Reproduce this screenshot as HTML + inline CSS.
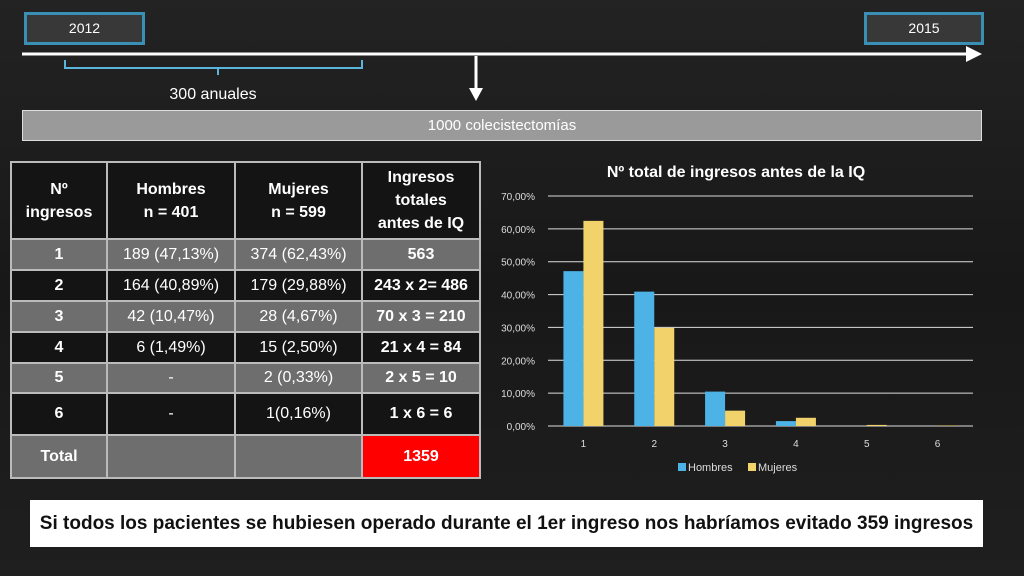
<!DOCTYPE html>
<html><head><meta charset="utf-8"><style>
body{margin:0;width:1024px;height:576px;overflow:hidden;background:#1e1e1e;font-family:"Liberation Sans",sans-serif;position:relative}
.abs{position:absolute}
.yr{position:absolute;background:#383838;border:3px solid #3a8fb5;color:#fff;font-size:14px;text-align:center;box-sizing:border-box;line-height:27px}
table{position:absolute;left:10px;top:161px;border-collapse:collapse;color:#fff;font-size:16px}
td{border:2px solid #bbb;text-align:center;padding:0}
tr.g td{background:#6e6e6e}
tr.d td{background:#141414}
.b{font-weight:bold}
.h td{line-height:23px}
</style></head><body>
<div class="abs" style="left:0;top:0;width:1024px;height:576px;background:linear-gradient(180deg,#232323,#181818 50%,#1f1f1f)"></div>
<div class="yr" style="left:24px;top:12px;width:121px;height:33px">2012</div>
<div class="yr" style="left:864px;top:12px;width:120px;height:33px">2015</div>
<svg class="abs" style="left:0;top:0" width="1024" height="110">
<line x1="22" y1="54" x2="970" y2="54" stroke="#fff" stroke-width="3"/>
<polygon points="966,46 982,54 966,62" fill="#fff"/>
<path d="M65,60 V68 H362 V60 M218,68 V75" fill="none" stroke="#5ab4dc" stroke-width="2"/>
<line x1="476" y1="56" x2="476" y2="90" stroke="#fff" stroke-width="3"/>
<polygon points="469,88 483,88 476,101" fill="#fff"/>
</svg>
<div class="abs" style="left:150px;top:86px;width:126px;text-align:center;color:#fff;font-size:16px">300 anuales</div>
<div class="abs" style="left:22px;top:110px;width:960px;height:31px;background:#9a9a9a;border:1px solid #ddd;box-sizing:border-box;color:#fff;text-align:center;line-height:29px;font-size:15px">1000 colecistectomías</div>
<table>
<tr class="d h" style="height:77px"><td class="b" style="width:94px">Nº<br>ingresos</td><td class="b" style="width:126px">Hombres<br>n = 401</td><td class="b" style="width:125px">Mujeres<br>n = 599</td><td class="b" style="width:116px">Ingresos<br>totales<br>antes de IQ</td></tr>
<tr class="g" style="height:31px"><td class="b">1</td><td>189 (47,13%)</td><td>374 (62,43%)</td><td class="b">563</td></tr>
<tr class="d" style="height:31px"><td class="b">2</td><td>164 (40,89%)</td><td>179 (29,88%)</td><td class="b">243 x 2= 486</td></tr>
<tr class="g" style="height:31px"><td class="b">3</td><td>42 (10,47%)</td><td>28 (4,67%)</td><td class="b">70 x 3 = 210</td></tr>
<tr class="d" style="height:31px"><td class="b">4</td><td>6 (1,49%)</td><td>15 (2,50%)</td><td class="b">21 x 4 = 84</td></tr>
<tr class="g" style="height:30px"><td class="b">5</td><td>-</td><td>2 (0,33%)</td><td class="b">2 x 5 = 10</td></tr>
<tr class="d" style="height:42px"><td class="b">6</td><td>-</td><td>1(0,16%)</td><td class="b">1 x 6 = 6</td></tr>
<tr class="g" style="height:43px"><td class="b">Total</td><td></td><td></td><td class="b" style="background:#f00">1359</td></tr>
</table>
<svg id="chart" class="abs" style="left:0;top:0" width="1024" height="500"></svg>
<div class="abs" style="left:30px;top:500px;width:953px;height:47px;background:#fff;color:#111;font-weight:bold;font-size:19px;text-align:center;line-height:47px">Si todos los pacientes se hubiesen operado durante el 1er ingreso nos habríamos evitado 359 ingresos</div>
<script>
const categories=["1","2","3","4","5","6"];
const hombres=[47.13,40.89,10.47,1.49,0,0];
const mujeres=[62.43,29.88,4.67,2.50,0.33,0.16];
const ticks=[0,10,20,30,40,50,60,70];
const tickLabels=["0,00%","10,00%","20,00%","30,00%","40,00%","50,00%","60,00%","70,00%"];
const svg=document.getElementById('chart');
const NS='http://www.w3.org/2000/svg';
const x0=548,x1=973,y0=426,yTop=196,vmax=70;
const y=v=>y0-(v/vmax)*(y0-yTop);
const bw=(x1-x0)/categories.length;
function mk(t,a,txt){const e=document.createElementNS(NS,t);for(const k in a)e.setAttribute(k,a[k]);if(txt!=null)e.textContent=txt;svg.appendChild(e);return e;}
let t=mk('text',{x:736,y:177,fill:'#fff','font-size':16,'font-weight':'bold','text-anchor':'middle','font-family':'Liberation Sans'},'Nº total de ingresos antes de la IQ');


ticks.forEach((v,i)=>{
 const g=mk('line',{x1:x0,x2:x1,y1:y(v),y2:y(v),stroke:'#ddd','stroke-width':1});
 
 
 const l=mk('text',{x:535,y:y(v)+4,fill:'#ddd','font-size':10,'text-anchor':'end','font-family':'Liberation Sans'},tickLabels[i]);
 
 
});
categories.forEach((c,i)=>{
 const cx=x0+bw*(i+0.5);
 const h=mk('rect',{x:cx-20,y:y(hombres[i]),width:20,height:y0-y(hombres[i]),fill:'#4db3e6'});
 
 
 const m=mk('rect',{x:cx,y:y(mujeres[i]),width:20,height:y0-y(mujeres[i]),fill:'#f2d36b'});
 
 
 const l=mk('text',{x:cx,y:447,fill:'#ddd','font-size':10,'text-anchor':'middle','font-family':'Liberation Sans'},c);
 
 
});
const lg=[['#4db3e6','Hombres',678],['#f2d36b','Mujeres',748]];
lg.forEach(([col,txt,lx])=>{
 const r=mk('rect',{x:lx,y:463,width:8,height:8,fill:col});
 
 
 const l=mk('text',{x:lx+10,y:471,fill:'#ddd','font-size':11,'font-family':'Liberation Sans'},txt);
 
 
});
</script>
</body></html>
